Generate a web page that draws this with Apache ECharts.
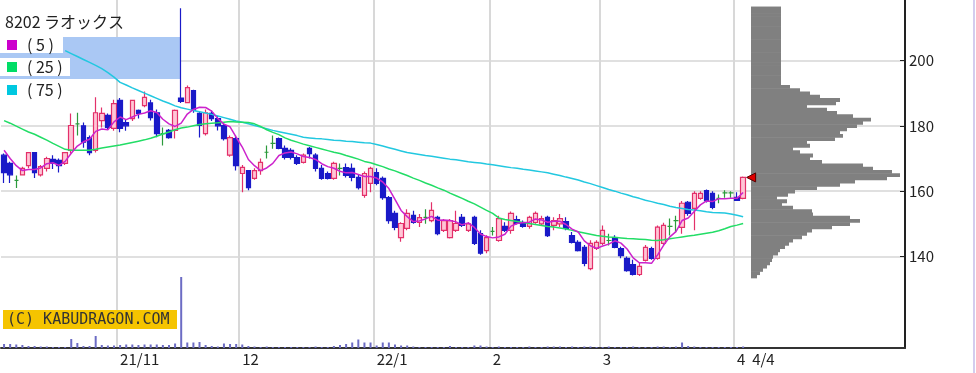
<!DOCTYPE html>
<html><head><meta charset="utf-8">
<script src="https://cdn.jsdelivr.net/npm/echarts@6/dist/echarts.min.js"></script>
<style>html,body{margin:0;padding:0;background:#fff}#c{width:976px;height:373px}</style>
</head><body><div id="c"></div><script>
// ---- data ----
const dates = [
'2021/10/05','2021/10/06','2021/10/07','2021/10/08','2021/10/11','2021/10/12','2021/10/13','2021/10/14','2021/10/15','2021/10/18','2021/10/19','2021/10/20','2021/10/21','2021/10/22','2021/10/25','2021/10/26','2021/10/27','2021/10/28','2021/10/29',
'2021/11/01','2021/11/02','2021/11/04','2021/11/05','2021/11/08','2021/11/09','2021/11/10','2021/11/11','2021/11/12','2021/11/15','2021/11/16','2021/11/17','2021/11/18','2021/11/19','2021/11/22','2021/11/24','2021/11/25','2021/11/26','2021/11/29','2021/11/30',
'2021/12/01','2021/12/02','2021/12/03','2021/12/06','2021/12/07','2021/12/08','2021/12/09','2021/12/10','2021/12/13','2021/12/14','2021/12/15','2021/12/16','2021/12/17','2021/12/20','2021/12/21','2021/12/22','2021/12/23','2021/12/24','2021/12/27','2021/12/28','2021/12/29','2021/12/30',
'2022/01/04','2022/01/05','2022/01/06','2022/01/07','2022/01/11','2022/01/12','2022/01/13','2022/01/14','2022/01/17','2022/01/18','2022/01/19','2022/01/20','2022/01/21','2022/01/24','2022/01/25','2022/01/26','2022/01/27','2022/01/28','2022/01/31',
'2022/02/01','2022/02/02','2022/02/03','2022/02/04','2022/02/07','2022/02/08','2022/02/09','2022/02/10','2022/02/14','2022/02/15','2022/02/16','2022/02/17','2022/02/18','2022/02/21','2022/02/22','2022/02/24','2022/02/25','2022/02/28',
'2022/03/01','2022/03/02','2022/03/03','2022/03/04','2022/03/07','2022/03/08','2022/03/09','2022/03/10','2022/03/11','2022/03/14','2022/03/15','2022/03/16','2022/03/17','2022/03/18','2022/03/22','2022/03/23','2022/03/24','2022/03/25','2022/03/28','2022/03/29','2022/03/30','2022/03/31',
'2022/04/01','2022/04/04'];

const open = [171,168.5,163.3,165,167.8,171.8,165,167,169.7,169.4,
168.5,172.5,180.6,180,176.4,172.5,181.6,183.2,179.2,187.8,
181,182.2,184.7,186.2,187,184,177.6,178.6,178.6,188.5,
187.1,190.8,183.8,177.6,183.8,182.2,180.1,171,176.1,165.4,
166.3,163.9,166.3,171.9,174.6,176.1,173.1,172.5,170.3,168.8,
173.1,171,167,165.4,163.9,167,167.2,167,164.2,158.7,
162.4,165.7,163.9,158,153.2,145.8,148.6,152.6,150.4,152,
151,152,148,145.8,148,152,148,152,147,141.8,
147.7,144.9,149.2,148,151.3,150.1,149.2,150.4,150,152,
149.5,150,150.7,146.4,144.3,142.8,136.3,142.5,144,144.9,
145.8,142.4,139.4,137.5,134.5,138.8,142.4,139.4,144,149.2,
151,148.9,156.6,154.7,157.8,160.2,159.3,157.8,159.5,159.5,
158.1,157.8];
const close = [165.7,165,163.3,167,171.8,165.7,167.5,170,168.5,167.8,
171.8,180.1,180.6,175,171.8,184,183.8,179.5,186.8,179.2,
180,187.8,183.8,188.7,182.5,177.6,177.6,176.4,184.7,187.5,
191.7,184.7,180.1,184,182.2,180,176.1,176.4,167.8,167.3,
161.1,166.3,168.8,171.9,174.6,173.1,170.3,170.3,168.5,171,
171.5,167,163.9,163.9,168.5,167,164.8,164.2,161.1,165.4,
167,162.4,158,151,148.9,150.1,153.2,150.4,151.9,152,
154.1,147,151,151,150.1,149.5,150,144,141,145.8,
147.7,151.6,148,153.2,150.1,149.2,152,153.2,151.6,146.4,
151,151.6,148.6,144.3,141.8,137.9,144,144.3,148,144.9,
142.8,140.3,135.7,134.5,137,142.8,139.4,149,149.5,149.2,
151,156.3,153.2,159.3,159.3,157.1,155,157.8,159.5,159.5,
157.2,164.2];
const high = [171.5,169,164.8,167.5,172,172,168,170.5,171,170,
172,183.8,184,181,177,188.7,185.6,183.8,188,188.5,
182,188,185,190.5,188,185,179.5,179,185,216,
192.3,191,184.5,185,184.7,183,181,177,177,168,
166.5,167,170,174,177,176.4,174,173.1,171,171.5,
173.5,171.6,168,166,169,168.5,168.5,168.5,165,166,
167.5,167,164.5,158.5,154,150.5,154.5,154,153,154.5,
156.6,152.5,151.5,151.5,154,153,150.5,152.5,148,146.5,
149,152.5,150.5,153.8,152.5,151,152.5,153.8,152.5,152.5,
152,153,152,147.5,145,143.5,145,145,149.5,147,
146.5,143,140,139,138,143.5,143,149.5,150.3,151.6,
152.5,157,157,160,160,160.5,160,159,160.3,160,
159.7,164.5];
const low = [162.5,162.5,161,164.8,167,164,164.5,166,166.8,165.7,
168,171.5,177,173.3,171,171.8,179.5,179,178.5,178,
178.5,181.5,182.2,185.7,181.6,176.5,174,176,176.1,187,
187,184,176.4,177,181.5,178.6,175.5,170.5,166.3,159.7,
160.3,163.5,165,170,173,172.8,169.7,169.7,168,168.5,
170,166,163.5,163.6,163.5,164.8,164.2,163,160.5,158,
159.7,161.8,157.4,150,148,144.5,148,150,149,150,
150.5,146.5,147.5,145.5,147.5,149,147.5,143.5,140.5,141,
146.4,144.5,147.5,147,149.8,148.8,148.5,150,149.5,146,
148,149,148,144,141.5,137,135.8,142,143.5,143.4,
142.5,139.5,135.3,134.2,134,138.5,139,139,143.5,146.4,
147.4,147,152.5,148,157.4,156.5,154.5,156.3,158,158,
157,157.5];

const ma5 = [172.5,170.0,167.8,166.3,166.6,166.6,167.1,168.4,168.7,167.9,
169.1,171.6,173.8,175.1,175.9,178.3,179.0,178.8,181.2,182.7,
181.9,182.7,183.5,183.9,184.6,184.1,182.0,180.6,179.8,180.8,
183.6,185.0,185.7,185.6,184.5,182.2,180.5,179.7,176.5,173.5,
169.7,167.8,166.3,167.1,168.5,170.9,171.7,172.0,171.4,170.6,
170.3,169.7,168.4,167.5,167.0,166.1,165.6,165.7,165.1,164.5,
164.5,164.0,162.8,160.8,157.5,154.1,152.2,150.7,150.9,151.5,
152.3,151.1,151.2,151.0,150.6,149.7,150.3,148.9,146.9,146.1,
145.7,146.0,146.8,149.3,150.1,150.4,150.5,151.5,151.2,150.5,
150.8,150.8,149.8,148.4,147.5,144.8,143.3,142.5,143.2,143.8,
144.8,144.1,142.3,139.6,138.1,138.1,137.9,140.5,143.5,146.0,
147.6,151.0,151.8,153.8,155.8,157.0,156.8,157.7,157.7,157.8,
157.8,159.6];
const ma25 = [181.6,180.8,179.9,179.0,178.1,177.4,176.5,175.6,174.6,173.7,
172.8,172.5,172.5,172.5,172.5,172.8,173.2,173.5,173.8,174.1,
174.5,174.9,175.3,175.7,176.2,176.8,177.5,178.1,178.8,179.3,
179.6,180.0,180.4,180.6,180.8,180.9,181.1,181.3,181.2,181.1,
181.0,180.6,179.8,178.8,178.0,177.3,176.3,175.6,175.0,174.4,
173.9,173.4,172.9,172.4,171.9,171.5,170.9,170.4,169.8,169.1,
168.7,168.1,167.5,166.8,166.2,165.5,164.8,164.0,163.3,162.5,
161.8,161.0,160.3,159.4,158.6,157.8,156.9,156.1,155.1,154.1,
153.2,151.8,151.3,151.0,150.7,150.4,150.1,149.8,149.5,149.2,
149.0,148.7,148.4,148.0,147.6,147.2,146.8,146.4,146.2,146.0,
145.9,145.7,145.5,145.4,145.3,145.2,145.0,144.9,145.1,145.4,
145.7,146.0,146.3,146.5,146.8,147.1,147.4,147.9,148.5,149.2,
149.6,150.1];
const ma75 = ['-','-','-','-','-','-','-','-','-','-',
203.0,202.1,201.2,200.3,199.4,198.5,197.5,196.3,194.9,193.3,
192.5,191.6,190.8,190.0,189.2,188.4,187.6,186.9,186.1,185.5,
185.1,184.7,184.3,183.9,183.5,183.0,182.5,182.0,181.5,181.1,
180.6,180.1,179.6,179.1,178.6,178.2,177.8,177.4,177.0,176.5,
176.3,176.1,176.0,175.8,175.6,175.5,175.3,175.2,175.0,174.8,
174.7,174.3,173.8,173.3,172.8,172.3,171.8,171.5,171.2,170.9,
170.7,170.4,170.1,169.8,169.6,169.3,169.0,168.8,168.6,168.3,
168.1,167.8,167.5,167.2,167.0,166.7,166.5,166.2,165.9,165.6,
165.2,164.8,164.3,163.9,163.4,162.8,162.3,161.7,161.1,160.5,
160.0,159.4,158.9,158.3,157.8,157.2,156.8,156.3,155.9,155.4,
155.0,154.7,154.4,154.2,154.0,153.7,153.5,153.4,153.3,153.0,
152.6,152.2];

const volume = [40,40,35,30,20,20,15,15,10,10,
10,90,50,20,20,120,30,25,25,30,
35,35,30,35,35,35,30,30,45,710,
55,55,60,30,20,15,45,40,40,35,
20,15,10,15,10,10,10,10,10,10,
10,15,10,10,20,30,40,55,85,55,
55,25,55,55,35,25,25,15,10,10,
10,10,10,20,10,10,10,25,25,15,
10,15,10,10,10,10,15,10,10,15,
15,15,10,15,10,15,15,10,10,15,
10,10,10,15,10,10,10,15,15,10,
15,55,20,15,10,10,10,10,10,10,
10,15];

// volume-by-price profile (1-yen bins)
const vpPrice = [134,135,136,137,138,139,140,141,142,143,144,145,146,147,148,149,150,151,152,153,
154,155,156,157,158,159,160,161,162,163,164,165,166,167,168,169,170,171,172,173,
174,175,176,177,178,179,180,181,182,183,184,185,186,187,188,189,190,191,192,193,
194,195,196,197,198,199,200,201,202,203,204,205,206,207,208,209,210,211,212,213,
214,215,216];
const vpVolume = [6,9,12,16,19,21,22,27,29,34,38,42,51,56,61,81,99,109,99,62,
61,42,31,36,26,37,44,66,89,104,136,149,141,122,112,71,59,62,49,42,
59,56,84,92,89,96,106,112,120,102,86,76,56,85,89,69,59,49,39,30,
30,30,30,30,30,30,30,30,30,30,30,30,30,30,30,30,30,30,30,30,
30,30,30];

const yTicks = [140,160,180,200];
const labelDates = ['2021/11/01','2021/12/01','2022/01/04','2022/02/01','2022/03/01','2022/04/01','2022/04/04'];
const labelTexts = ['21/11','12','22/1','2','3','4','4/4'];
const gridDates = ['2021/11/01','2021/12/01','2022/01/04','2022/02/01','2022/03/01','2022/04/01'];

// ---- chart ----
const FONT = '"Noto Sans CJK JP", "Noto Sans", sans-serif';
const C5 = '#cc22cc', C25 = '#22dd66', C75 = '#22c8e0';
const xData = dates.concat(Array.from({length: 26}, (_, k) => 'pad' + k));
const labelIdx = labelDates.map(d => dates.indexOf(d));
const gridIdx = new Set(gridDates.map(d => dates.indexOf(d)));
const candles = dates.map((d, i) => [open[i], close[i], low[i], high[i]]);
const yMin = 112, yMax = 218.5;

const chart = echarts.init(document.getElementById('c'), null, {renderer: 'canvas'});
chart.setOption({
  animation: false,
  backgroundColor: '#fff',
  grid: [
    {left: 1, right: 71, top: 0, bottom: 25},
    {left: 1, right: 71, top: 268, bottom: 25},
    {left: 751, right: 71, top: 0, bottom: 25}
  ],
  xAxis: [
    {type: 'category', gridIndex: 0, data: xData, boundaryGap: true,
     axisLine: {lineStyle: {color: '#333', width: 2}},
     axisTick: {show: false},
     axisLabel: {
       interval: (i) => labelIdx.indexOf(i) >= 0,
       formatter: (v, i) => {
         const k = labelIdx.indexOf(i);
         if (k < 0) return '';
         return k === labelIdx.length - 1 ? '{p|' + labelTexts[k] + '}' : labelTexts[k];
       },
       align: 'left', margin: 4, color: '#222', fontSize: 15, fontFamily: FONT,
       rich: {p: {padding: [0, 0, 0, 9], color: '#222', fontSize: 15, fontFamily: FONT}}
     },
     splitLine: {show: true, interval: (i) => gridIdx.has(i), lineStyle: {color: '#d8d8d8', width: 2}}
    },
    {type: 'category', gridIndex: 1, data: xData, boundaryGap: true, show: false},
    {type: 'value', gridIndex: 2, min: 0, max: 154, show: false}
  ],
  yAxis: [
    {type: 'value', gridIndex: 0, position: 'right', min: yMin, max: yMax,
     axisLine: {show: true, lineStyle: {color: '#222', width: 2}},
     axisTick: {show: true, inside: true, length: 5, customValues: yTicks, lineStyle: {color: '#222'}},
     axisLabel: {customValues: yTicks, margin: 4, color: '#222', fontSize: 15, fontFamily: FONT},
     splitLine: {show: true, lineStyle: {color: '#d6d6d6', width: 1.5}}
    },
    {type: 'value', gridIndex: 1, min: 0, max: 800, show: false},
    {type: 'value', gridIndex: 2, min: yMin, max: yMax, show: false}
  ],
  series: [
    {type: 'bar', name: 'volume', xAxisIndex: 1, yAxisIndex: 1, data: volume,
     barWidth: 2, itemStyle: {color: '#6c6cc4'}, z: 2},
    {type: 'custom', name: 'profile', xAxisIndex: 2, yAxisIndex: 2,
     data: vpPrice.map((p, i) => [vpVolume[i], p]),
     encode: {x: 0, y: 1},
     renderItem: (params, api) => {
       const v = api.value(0), p = api.value(1);
       const a = api.coord([0, p + 0.5]);
       const b = api.coord([v, p - 0.5]);
       return {type: 'rect', shape: {x: a[0], y: a[1], width: b[0] - a[0], height: b[1] - a[1] + 0.6},
               style: {fill: '#808080'}};
     }, z: 2},
    {type: 'candlestick', name: 'price', xAxisIndex: 0, yAxisIndex: 0, data: candles,
     barWidth: 5,
     itemStyle: {color: '#ffc6d6', color0: '#1a1ac8', borderColor: '#e3306a', borderColor0: '#1a1ac8',
                 borderColorDoji: '#2c9a3c', borderWidth: 1.2},
     markPoint: {symbol: 'triangle', symbolSize: [9, 9], symbolRotate: 90, symbolOffset: [8, 0],
                 label: {show: false}, itemStyle: {color: '#e00000', borderColor: '#500', borderWidth: 1},
                 data: [{coord: [dates[dates.length - 1], close[close.length - 1]]}]},
     z: 3},
    {type: 'line', name: '(75)', xAxisIndex: 0, yAxisIndex: 0, data: ma75, showSymbol: false,
     lineStyle: {color: C75, width: 1.5}, itemStyle: {color: C75}, z: 4},
    {type: 'line', name: '(25)', xAxisIndex: 0, yAxisIndex: 0, data: ma25, showSymbol: false,
     lineStyle: {color: C25, width: 1.5}, itemStyle: {color: C25}, z: 4},
    {type: 'line', name: '(5)', xAxisIndex: 0, yAxisIndex: 0, data: ma5, showSymbol: false,
     lineStyle: {color: C5, width: 1.5}, itemStyle: {color: C5}, z: 5}
  ],
  graphic: {elements: [
    {type: 'rect', shape: {x: 0, y: 37, width: 180, height: 42}, style: {fill: '#aac8f4'}, z: 1},
    {type: 'rect', shape: {x: 0, y: 37, width: 63, height: 16}, style: {fill: '#fff'}, z: 50},
    {type: 'rect', shape: {x: 0, y: 58, width: 70, height: 18}, style: {fill: '#fff'}, z: 50},
    {type: 'text', x: 5, y: 22, style: {text: '8202 ラオックス', fontSize: 16, fontFamily: FONT, fill: '#222', verticalAlign: 'middle'}, z: 51},
    {type: 'rect', shape: {x: 7, y: 40, width: 10, height: 10}, style: {fill: '#cc00cc'}, z: 51},
    {type: 'rect', shape: {x: 7, y: 62, width: 10, height: 10}, style: {fill: '#00dd66'}, z: 51},
    {type: 'rect', shape: {x: 7, y: 85, width: 10, height: 10}, style: {fill: '#00c8e0'}, z: 51},
    {type: 'text', x: 27, y: 45, style: {text: '( 5 )', fontSize: 16, fontFamily: FONT, fill: '#222', verticalAlign: 'middle'}, z: 51},
    {type: 'text', x: 27, y: 67, style: {text: '( 25 )', fontSize: 16, fontFamily: FONT, fill: '#222', verticalAlign: 'middle'}, z: 51},
    {type: 'text', x: 27, y: 90, style: {text: '( 75 )', fontSize: 16, fontFamily: FONT, fill: '#222', verticalAlign: 'middle'}, z: 51},
    {type: 'rect', shape: {x: 3, y: 310, width: 174, height: 19}, style: {fill: '#f5c400'}, z: 50},
    {type: 'text', x: 7, y: 320, style: {text: '(C) KABUDRAGON.COM', fontSize: 15, fontFamily: '"DejaVu Sans Mono", monospace', fill: '#333', verticalAlign: 'middle'}, z: 51},
    {type: 'rect', shape: {x: 973, y: 0, width: 2, height: 373}, style: {fill: '#d4ccee'}, z: 51}
  ]}
});
</script></body></html>
